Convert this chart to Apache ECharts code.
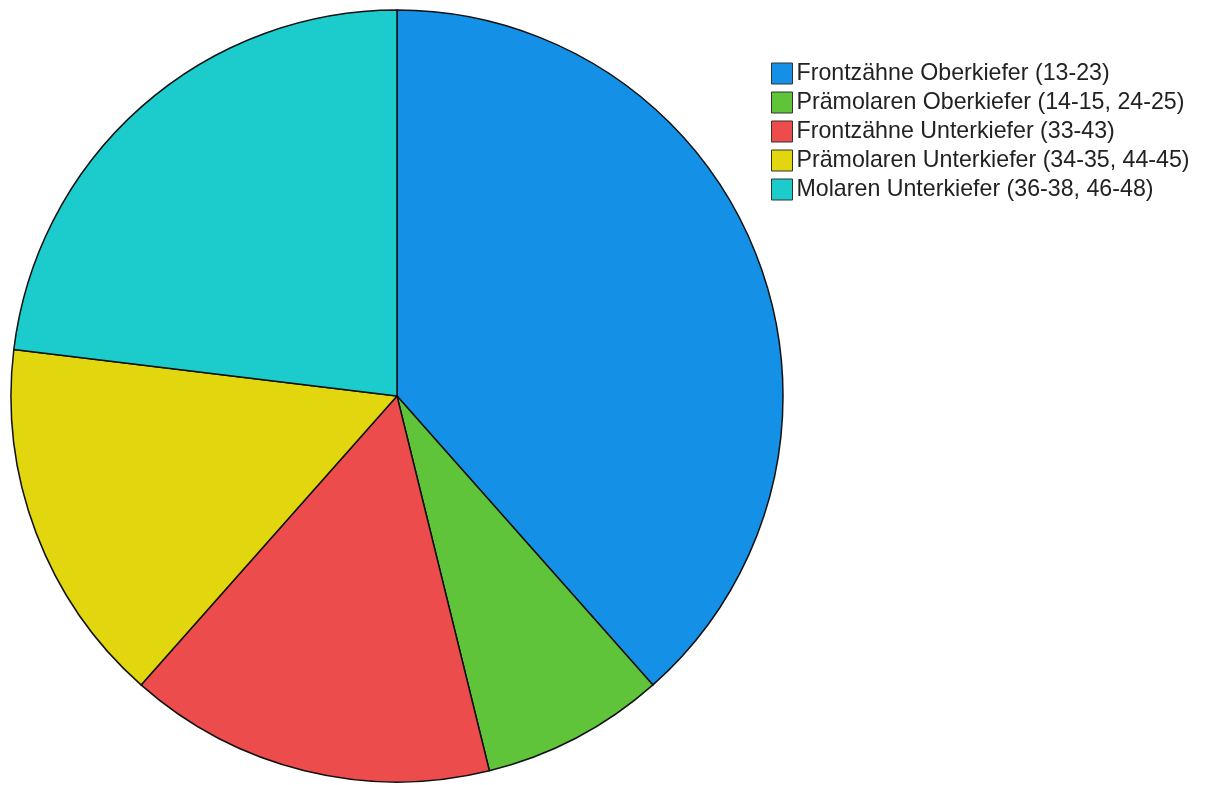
<!DOCTYPE html>
<html>
<head>
<meta charset="utf-8">
<script src="https://cdn.jsdelivr.net/npm/echarts@6/dist/echarts.min.js"></script>
<style>
  html, body { margin: 0; padding: 0; background: #fff; }
  #chart { width: 1206px; height: 785px; }
</style>
</head>
<body>
<div id="chart"></div>
<script>
// Kategorien und Werte (Anzahl)
var categories = [
  'Frontzähne Oberkiefer (13-23)',
  'Prämolaren Oberkiefer (14-15, 24-25)',
  'Frontzähne Unterkiefer (33-43)',
  'Prämolaren Unterkiefer (34-35, 44-45)',
  'Molaren Unterkiefer (36-38, 46-48)'
];
var counts = [5, 1, 2, 2, 3];
var colors = ['#1491e6', '#5fc43a', '#ec4c4c', '#e2d60f', '#1ccccc'];

var chart = echarts.init(document.getElementById('chart'));
var pieData = categories.map(function (c, i) {
  return { name: c, value: counts[i] };
});

chart.setOption({
  animation: false,
  color: colors,
  legend: {
    orient: 'vertical',
    left: 771,
    top: 62,
    padding: 0,
    itemWidth: 21,
    itemHeight: 21,
    itemGap: 6,
    icon: 'rect',
    itemStyle: { borderColor: '#333', borderWidth: 1 },
    textStyle: {
      color: '#222',
      fontSize: 23.2,
      lineHeight: 19,
      fontFamily: 'Liberation Sans, Arial, sans-serif',
      padding: [2, 0, 0, -1]
    },
    data: categories
  },
  series: [{
    type: 'pie',
    center: [397, 396],
    radius: [0, 386],
    startAngle: 90,
    clockwise: true,
    label: { show: false },
    labelLine: { show: false },
    emphasis: { disabled: true },
    itemStyle: { borderColor: '#111', borderWidth: 1.5 },
    data: pieData
  }]
});
</script>
</body>
</html>
